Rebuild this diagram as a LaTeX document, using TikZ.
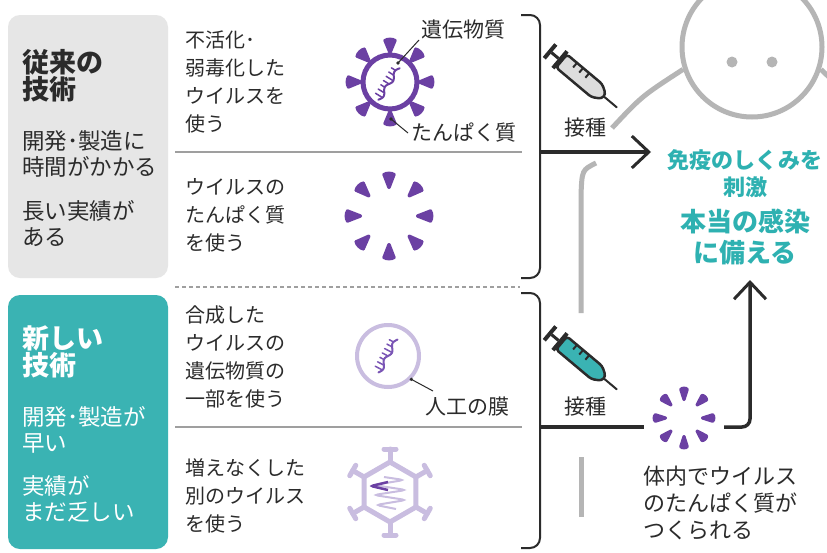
\documentclass[tikz,border=0pt]{standalone}
\usepackage{fontspec}
\newfontfamily\jp{Noto Sans CJK JP}
\usepackage{tikz}
\usetikzlibrary{arrows.meta, positioning}

\definecolor{boxgray}{HTML}{E6E6E6}
\definecolor{newteal}{HTML}{3AB3B3}
\definecolor{virus}{HTML}{6B40A3}
\definecolor{lightvirus}{HTML}{C9BDE0}
\definecolor{rnaviolet}{HTML}{7A55B5}
\definecolor{bodygray}{HTML}{B5B5B5}
\definecolor{ink}{HTML}{2B2B2B}
\definecolor{effect}{HTML}{2EB1B1}
\definecolor{barrelgray}{HTML}{DDDDDD}

\begin{document}
\begin{tikzpicture}[x=1pt, y=-1pt,
    oldbox/.style={fill=boxgray, rounded corners=12pt},
    newbox/.style={fill=newteal, rounded corners=12pt},
    title/.style={anchor=north west, inner sep=0pt, align=left, font=\jp\bfseries\fontsize{27}{27}\selectfont},
    note/.style={anchor=north west, inner sep=0pt, align=left, font=\jp\fontsize{22.5}{26}\selectfont},
    desc/.style={anchor=north west, inner sep=0pt, align=left, text=ink, font=\jp\fontsize{20}{28}\selectfont},
    tag/.style={inner sep=0pt, text=ink, font=\jp\fontsize{21}{21}\selectfont},
    result/.style={inner sep=0pt, align=center, text=effect, font=\jp\bfseries\fontsize{22}{27}\selectfont},
    divider/.style={draw=gray!75, line width=1.5pt},
    bracket/.style={draw=ink, line width=2pt, rounded corners=10pt},
    flow/.style={draw=ink, line width=3.5pt},
    tip/.style={-{Straight Barb[length=17pt, width=32pt, line width=3pt]}},
    leader/.style={draw=ink, line width=1pt},
    body/.style={draw=bodygray, line width=5pt},
    hexline/.style={draw=lightvirus, line width=5pt, line cap=round, line join=round},
    pics/spikes/.style n args={3}{code={
        \foreach \a in {0,45,...,315}
            \fill[virus, rotate=\a, rounded corners=1pt] (#1,-1.2) -- (#1,1.2) -- (#2,#3)
                .. controls (#2+3,#3*0.5) and (#2+3,-#3*0.5) .. (#2,-#3) -- cycle;
    }},
    pics/rna/.style={code={
        \draw[line width=2pt, line cap=round] plot[domain=-19:19, samples=25, smooth] (\x,{2*sin(\x*20)});
        \foreach \t in {-15,-10,...,17}
            \draw[line width=1.5pt, line cap=round] (\t,{2*sin(\t*20)}) -- (\t,-6.5);
    }},
    pics/syringe/.style={code={
        \fill[ink] (-45,-9) rectangle (-41,9);
        \draw[ink, line width=3pt] (-41,0) -- (-32,0);
        \fill[ink] (-32,-11) rectangle (-28,11);
        \draw[ink, line width=2.5pt, fill=#1, rounded corners=3pt]
            (-28,-8.5) -- (18,-8.5) -- (27,-3) -- (27,3) -- (18,8.5) -- (-28,8.5) -- cycle;
        \foreach \x in {-15,-7,1}
            \draw[ink, line width=2pt] (\x,-8.5) -- (\x,-2.5);
        \draw[ink, line width=2pt, line cap=round] (27,0) -- (44,0);
    }}
]
\useasboundingbox[fill=white] (0,0) rectangle (827,552);

% Left boxes
\fill[oldbox] (8,15) rectangle (168,278);
\fill[newbox] (8,295) rectangle (168,549);

\node[title, text=ink] (oldtitle) at (22,49) {従来の\\技術};
\node[note, text=ink] (oldslow) at (22,130) {開発･製造に\\時間がかかる};
\node[note, text=ink] (oldrecord) at (22,200) {長い実績が\\ある};

\node[title, text=white] (newtitle) at (22,325) {新しい\\技術};
\node[note, text=white] (newfast) at (22,406) {開発･製造が\\早い};
\node[note, text=white] (newrecord) at (22,475) {実績が\\まだ乏しい};

% Methods
\node[desc] (inactive) at (185,31) {不活化･\\弱毒化した\\ウイルスを\\使う};
\node[desc] (protein) at (185,178) {ウイルスの\\たんぱく質\\を使う};
\node[desc] (genetic) at (185,306) {合成した\\ウイルスの\\遺伝物質の\\一部を使う};
\node[desc] (vector) at (185,458) {増えなくした\\別のウイルス\\を使う};

\draw[divider] (175,152) -- (522,152);
\draw[divider] (175,427) -- (522,427);
\draw[draw=gray!75, line width=1.5pt, dash pattern=on 4pt off 3pt] (175,287) -- (520,287);

% Whole virus
\node[circle, draw=virus, line width=5pt, minimum size=54pt, inner sep=0pt] (v1) at (390,82) {};
\pic at (390,82) {spikes={28}{42}{7}};
\pic[virus, rotate=58] at (389,84) {rna};
\node[tag, anchor=west] (genelbl) at (421,30) {遺伝物質};
\coordinate (gene) at (398,63);
\fill[ink] (gene) circle[radius=1.8];
\draw[leader] (gene) -- ([shift={(-2,10)}]genelbl.west);
\node[tag, anchor=west] (protlbl) at (411,133) {たんぱく質};
\coordinate (prot) at (391,119);
\fill[ink] (prot) circle[radius=1.8];
\draw[leader] (prot) -- ([xshift=-3pt]protlbl.west);

% Protein only
\coordinate (v2) at (389,216);
\pic at (v2) {spikes={27}{42}{7}};

% Genetic material in a membrane
\node[circle, draw=lightvirus, line width=4pt, minimum size=62pt, inner sep=0pt] (v3) at (388,356) {};
\pic[rnaviolet, rotate=62] at (388,356) {rna};
\node[tag] (memlbl) at (467,407) {人工の膜};
\coordinate (memtip) at (433,391);
\fill[ink] (v3.-45) circle[radius=1.8];
\draw[leader] (v3.-45) -- (memtip);

% Vector virus
\begin{scope}[shift={(390,492)}]
    \draw[hexline] (30:30) -- (90:30) -- (150:30) -- (210:30) -- (270:30) -- (330:30) -- cycle;
    \foreach \a in {30,90,...,330} {
        \draw[hexline] (\a:30) -- (\a:43);
        \draw[hexline] ([shift={(\a:43)}]\a+90:6) -- ([shift={(\a:43)}]\a-90:6);
    }
    \draw[lightvirus, line width=2pt, rounded corners=4pt]
        (-6,-15) -- (14,-12) -- (-16,-7) -- (16,-2) -- (-16,3) -- (16,8) -- (-14,13) -- (6,17);
    \draw[virus, line width=2.5pt, rounded corners=2pt] (-2,-10) -- (-19,-6) -- (-2,-2);
\end{scope}

% Brackets
\draw[bracket] (521,15) -| (540,278) -- (521,278);
\draw[bracket] (521,293) -| (540,548) -- (521,548);

% Person
\node[circle, draw=bodygray, line width=5pt, minimum size=140pt, inner sep=0pt] (head) at (752,47) {};
\fill[bodygray] (732,62) circle[radius=5.5];
\fill[bodygray] (772,62) circle[radius=5.5];
\coordinate (rshoulder) at (832,80);
\draw[body] (612,128) .. controls (642,96) .. (head.198);
\draw[body] (head.-18) -- (rshoulder);
\draw[body] (596,163) .. controls (582,170) .. (581,195) -- (581,313);
\draw[body] (581,457) -- (581,517);

% Injections
\pic[rotate=-40] at (583,79) {syringe=barrelgray};
\pic[rotate=-40] at (583,361) {syringe=newteal};
\node[tag] (inj1) at (585,128) {接種};
\node[tag] (inj2) at (585,407) {接種};

% Arrows
\coordinate (oldout) at (540,152);
\coordinate (stim) at (651,152);
\draw[flow, tip] (oldout) -- (stim);

\node[circle, minimum size=80pt, inner sep=0pt] (made) at (684,418) {};
\pic at (made) {spikes={17}{29}{5}};
\coordinate (newout) at (540,427);
\coordinate (prep) at (750,280);
\draw[flow] (newout) -- (newout -| made.west);
\draw[flow, tip, rounded corners=8pt] (newout -| made.east) -| (prep);

% Effects
\node[result] (immune) at (745,174) {免疫のしくみを\\刺激};
\node[result, font=\jp\bfseries\fontsize{26}{31}\selectfont] (ready) at (745,237) {本当の感染\\に備える};
\node[desc, font=\jp\fontsize{22}{27}\selectfont] (maketxt) at (643,466) {体内でウイルス\\のたんぱく質が\\つくられる};
\end{tikzpicture}
\end{document}
